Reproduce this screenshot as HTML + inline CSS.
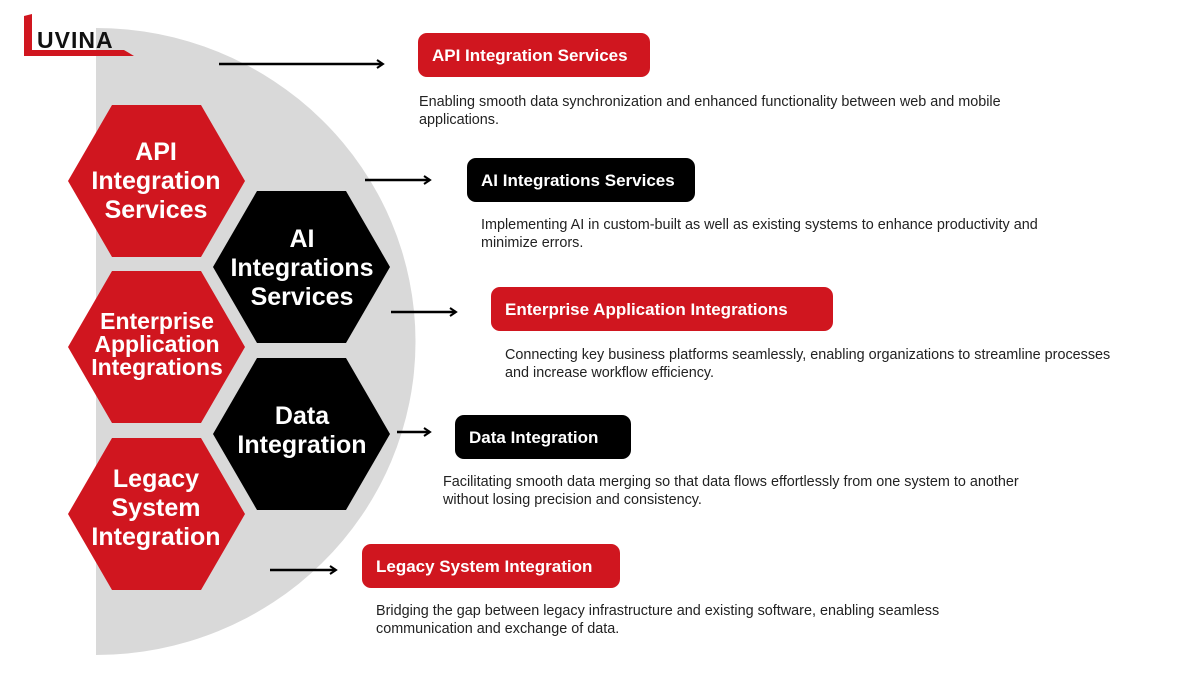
<!DOCTYPE html>
<html><head><meta charset="utf-8"><style>
body{margin:0;width:1200px;height:675px;background:#fff;position:relative;overflow:hidden;font-family:"Liberation Sans",sans-serif}
.box{position:absolute;height:44px;border-radius:9px;color:#fff;font-weight:bold;font-size:17px;line-height:46px;padding-left:14px;box-sizing:border-box;white-space:nowrap}
.r{background:#d0161f}.k{background:#000}
.d{position:absolute;font-size:14.4px;line-height:18px;color:#222;white-space:nowrap}
</style></head><body>
<svg width="1200" height="675" style="position:absolute;left:0;top:0">
<defs><marker id="a" markerWidth="10" markerHeight="10" refX="8" refY="5" orient="auto" markerUnits="userSpaceOnUse"><path d="M2,1 L8,5 L2,9" fill="none" stroke="#000" stroke-width="2"/></marker></defs>
<path d="M96,28 A319,313 0 0 1 96,655 Z" fill="#d9d9d9"/>
<g fill="#d0161f">
<polygon points="68,181 112,105 201,105 245,181 201,257 112,257"/>
<polygon points="68,347 112,271 201,271 245,347 201,423 112,423"/>
<polygon points="68,514 112,438 201,438 245,514 201,590 112,590"/>
</g>
<g fill="#000">
<polygon points="213,267 257,191 346,191 390,267 346,343 257,343"/>
<polygon points="213,434 257,358 346,358 390,434 346,510 257,510"/>
</g>
<g font-family="Liberation Sans" font-weight="bold" font-size="25" fill="#fff" text-anchor="middle">
<text x="156" y="160">API</text><text x="156" y="189">Integration</text><text x="156" y="218">Services</text>
<text x="302" y="247">AI</text><text x="302" y="276">Integrations</text><text x="302" y="305">Services</text>
<text x="157" y="329" font-size="23">Enterprise</text><text x="157" y="352" font-size="23">Application</text><text x="157" y="375" font-size="23">Integrations</text>
<text x="302" y="424">Data</text><text x="302" y="453">Integration</text>
<text x="156" y="487">Legacy</text><text x="156" y="516">System</text><text x="156" y="545">Integration</text>
</g>
<g stroke="#000" stroke-width="2.5" marker-end="url(#a)">
<line x1="219" y1="64" x2="383" y2="64"/>
<line x1="365" y1="180" x2="430" y2="180"/>
<line x1="391" y1="312" x2="456" y2="312"/>
<line x1="397" y1="432" x2="430" y2="432"/>
<line x1="270" y1="570" x2="336" y2="570"/>
</g>
<path d="M24,16 L32,14 L32,50 L124,50 L134,56 L24,56 Z" fill="#d0161f"/>
<text x="37" y="48" font-family="Liberation Sans" font-weight="bold" font-size="23" letter-spacing="1" fill="#111">UVINA</text>
</svg>
<div class="box r" style="left:418px;top:33px;width:232px">API Integration Services</div>
<div class="d" style="left:419px;top:93px">Enabling smooth data synchronization and enhanced functionality between web and mobile<br>applications.</div>
<div class="box k" style="left:467px;top:158px;width:228px">AI Integrations Services</div>
<div class="d" style="left:481px;top:216px">Implementing AI in custom-built as well as existing systems to enhance productivity and<br>minimize errors.</div>
<div class="box r" style="left:491px;top:287px;width:342px">Enterprise Application Integrations</div>
<div class="d" style="left:505px;top:346px">Connecting key business platforms seamlessly, enabling organizations to streamline processes<br>and increase workflow efficiency.</div>
<div class="box k" style="left:455px;top:415px;width:176px">Data Integration</div>
<div class="d" style="left:443px;top:473px">Facilitating smooth data merging so that data flows effortlessly from one system to another<br>without losing precision and consistency.</div>
<div class="box r" style="left:362px;top:544px;width:258px">Legacy System Integration</div>
<div class="d" style="left:376px;top:602px">Bridging the gap between legacy infrastructure and existing software, enabling seamless<br>communication and exchange of data.</div>
</body></html>
